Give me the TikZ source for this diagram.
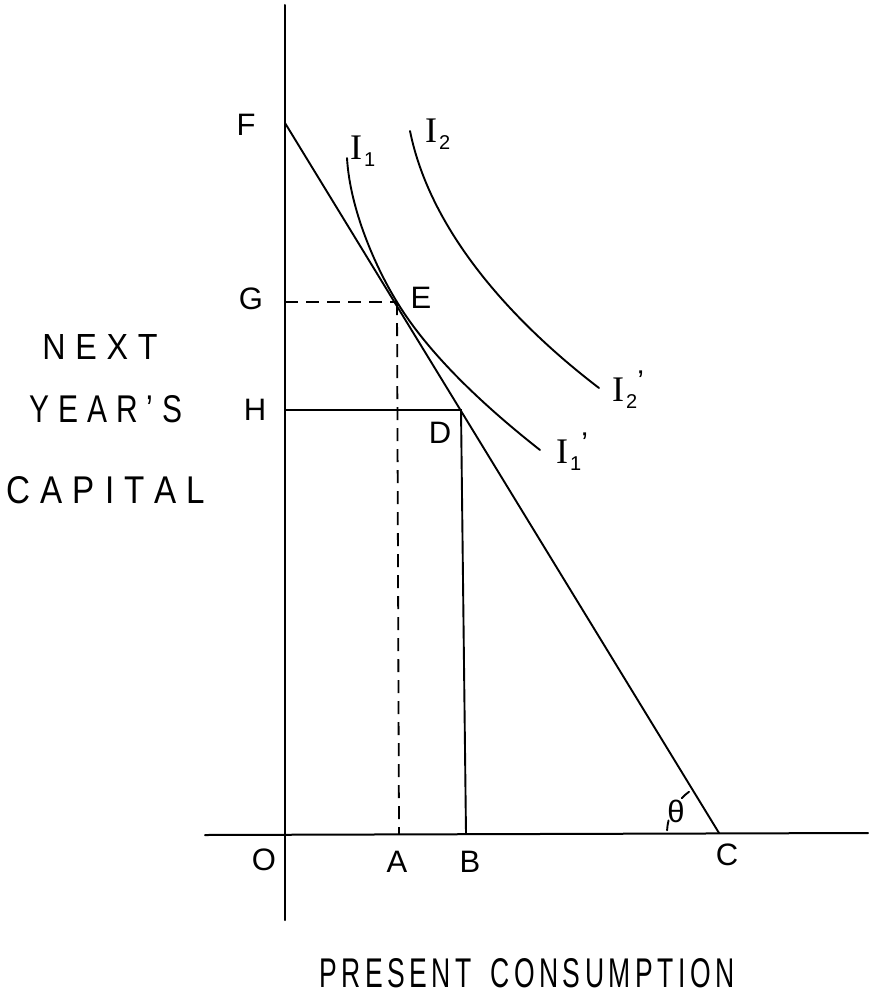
\documentclass[tikz,border=0pt]{standalone}
\usepackage{fontspec}
\setmainfont{Liberation Sans}
\newfontfamily\serifI{Liberation Serif}
\usetikzlibrary{calc}
\def\kk{\hspace{0.3em}}
\def\ks{\hspace{0.17em}}
\newcommand\Ilab[1]{{\serifI\fontsize{36}{36}\selectfont I}\kern2pt\raisebox{-7pt}{\fontsize{20}{20}\selectfont #1}}
\newcommand\Ilabp[1]{{\serifI\fontsize{36}{36}\selectfont I}\kern2pt\raisebox{-7pt}{\fontsize{20}{20}\selectfont #1}\kern0pt\raisebox{10pt}{\fontsize{30}{30}\selectfont ’}}
\begin{document}
\begin{tikzpicture}[x=1pt,y=-1pt,
  axis/.style={line width=2pt,line cap=round},
  curve/.style={line width=1.9pt,line cap=round},
  guide/.style={line width=1.8pt,dash pattern=on 13pt off 8pt},
  lbl/.style={inner sep=0pt,font=\fontsize{31}{31}\selectfont},
  ilbl/.style={inner sep=0pt,anchor=base west},
  word/.style={inner sep=0pt}]
\useasboundingbox[fill=white] (0,0) rectangle (868,998);
% key points
\coordinate (Ytop) at (285,5);
\coordinate (Ybot) at (285,920);
\coordinate (Xl) at (205,835);
\coordinate (Xr) at (868,833);
\coordinate (F) at (285,123);
\coordinate (C) at (719,833);
\coordinate (E) at (397,302);
\coordinate (G) at (285,302);
\coordinate (A) at (399,834);
\coordinate (H) at (285,410);
\coordinate (D) at (461,410);
\coordinate (B) at (466,834);
\coordinate (I1s) at (347,158);
\coordinate (I1e) at (540,450);
\coordinate (I2s) at (410,131);
\coordinate (I2e) at (599,388);
% axes
\draw[axis] (Ytop) -- (Ybot);
\draw[axis] (Xl) -- (Xr);
% budget line
\draw[curve] (F) -- (C);
% guides
\draw[guide] (G) -- (E);
\draw[guide] (E) -- (A);
\draw[curve] (H) -- (D) -- (B);
% indifference curves
\draw[curve] (I1s) .. controls (350,210) and (376,268) .. (E)
             .. controls (423,345) and (470,395) .. (I1e);
\draw[curve] (I2s) .. controls (430,230) and (510,320) .. (I2e);
% angle marks
\draw[curve] ($(C)+(126:51pt)$) arc[start angle=126,end angle=137,radius=51pt];
\draw[curve] ($(C)+(166:52pt)$) arc[start angle=166,end angle=177,radius=52pt];
% point labels
\node[lbl] (lF) at (246,125) {F};
\node[lbl] (lG) at (251,299) {G};
\node[lbl] (lE) at (421,298) {E};
\node[lbl] (lH) at (255,410) {H};
\node[lbl] (lD) at (440,433) {D};
\node[lbl] (lO) at (264,860) {O};
\node[lbl] (lA) at (397,862) {A};
\node[lbl] (lB) at (470,862) {B};
\node[lbl] (lC) at (727,855) {C};
\node[lbl] (lth) at (676,811) {θ};
% curve labels
\node[ilbl] (lI1) at (350,159) {\Ilab{1}};
\node[ilbl] (lI2) at (425,142) {\Ilab{2}};
\node[ilbl] (lI1p) at (556,463) {\Ilabp{1}};
\node[ilbl] (lI2p) at (612,401) {\Ilabp{2}};
% axis titles
\node[word] (next) at (100,347) {\resizebox{115pt}{25pt}{N\kk E\kk X\kk T}};
\node[word] (year) at (106,409) {\resizebox{153pt}{27pt}{Y\kk E\kk A\kk R\kk '\kk S}};
\node[word] (capital) at (106,490) {\resizebox{198pt}{27pt}{C\kk A\kk P\kk I\kk T\kk A\kk L}};
\node[word] (present) at (527,973) {\resizebox{415pt}{29pt}{P\ks R\ks E\ks S\ks E\ks N\ks T\hspace{0.7em}C\ks O\ks N\ks S\ks U\ks M\ks P\ks T\ks I\ks O\ks N}};
\end{tikzpicture}
\end{document}
